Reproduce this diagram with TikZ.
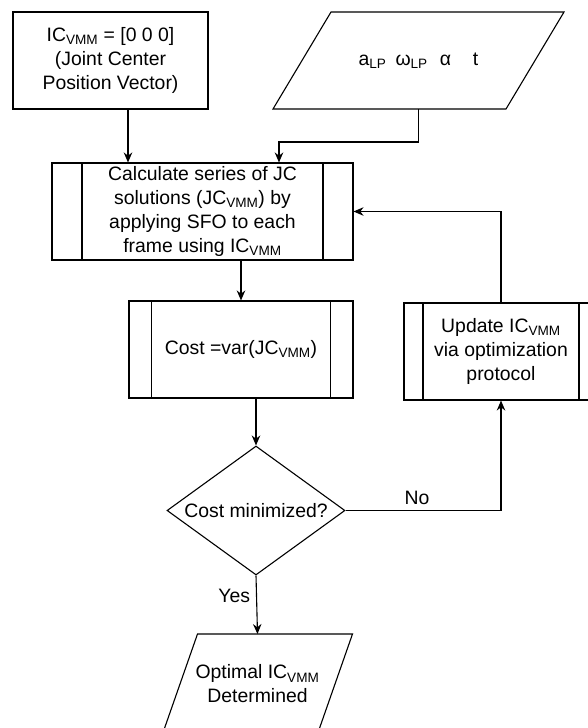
\documentclass[tikz,border=0pt]{standalone}
\usepackage{fontspec}
\setmainfont{Liberation Sans}
\usetikzlibrary{shapes.geometric,arrows.meta}
\newcommand{\vmm}{\textsubscript{VMM}}

\tikzset{
  procbox/.style={draw, rectangle, inner sep=0pt, minimum height=97pt, align=center,
    path picture={
      \draw[line width=1.1pt] ([xshift=#1]path picture bounding box.north west) -- ([xshift=#1]path picture bounding box.south west);
      \draw[line width=1.1pt] ([xshift=-#1]path picture bounding box.north east) -- ([xshift=-#1]path picture bounding box.south east);}},
  iobox/.style={inner sep=0pt, outer sep=0pt, align=center},
  arr/.style={-{Stealth[length=10pt,width=8.5pt]}}
}

\begin{document}
\begin{tikzpicture}[x=1pt, y=-1pt, line width=1.1pt,
    every node/.style={font=\fontsize{19.4}{24}\selectfont}]
        \useasboundingbox (0,0) rectangle (588,728);
        \node[draw, minimum width=195pt, minimum height=97pt, inner sep=0pt, align=center] (ic) at (110.5,60.5)
            {IC\vmm{} = [0 0 0]\\(Joint Center\\Position Vector)};
        \node[iobox, minimum width=233pt, minimum height=97pt] (inp) at (418.5,60.5)
            {a\textsubscript{LP}\hspace{9pt}ω\textsubscript{LP}\hspace{12pt}α\hspace{22pt}t};
        \node[procbox=30pt, minimum width=301pt] (calc) at (202.5,211.5)
            {Calculate series of JC\\solutions (JC\vmm) by\\applying SFO to each\\frame using IC\vmm};
        \node[procbox=22.5pt, minimum width=224pt] (cost) at (241,349.5) {Cost =var(JC\vmm)};
        \node[procbox=19pt, minimum width=194pt] (upd) at (501,351.5)
            {Update IC\vmm\\via optimization\\protocol};
        \node[draw, diamond, aspect=1.4, inner sep=0pt, minimum width=178pt, minimum height=129pt] (dec) at (256,510.5)
            {Cost minimized?};
        \node[iobox, minimum width=155pt, minimum height=100pt] (opt) at (257.5,684)
            {Optimal IC\vmm\\Determined};
        % parallelogram outlines
        \foreach \n/\s in {inp/29pt, opt/17.5pt}
            \draw ([xshift=\s]\n.north west) -- ([xshift=\s]\n.north east)
                -- ([xshift=-\s]\n.south east) -- ([xshift=-\s]\n.south west) -- cycle;
        \coordinate (calcin1) at ([xshift=-74.5pt]calc.north);
        \coordinate (calcin2) at ([xshift=76.5pt]calc.north);
        \draw[arr] (ic.south -| calcin1) -- (calcin1);
        \draw[arr] (inp.south) -- ++(0,33) -| (calcin2);
        \draw[arr] (calc.south -| cost.north) -- (cost.north);
        \draw[arr] (cost.south -| dec.north) -- (dec.north);
        \draw[arr] (upd.north) |- (calc.east);
        \draw[arr] (dec.east) -| node[pos=0.23, above, inner sep=5pt] (nolbl) {No} (upd.south);
        \draw[arr] (dec.south) -- node[pos=0.35, left, inner sep=6pt] (yeslbl) {Yes} (opt.north);
\end{tikzpicture}
\end{document}
